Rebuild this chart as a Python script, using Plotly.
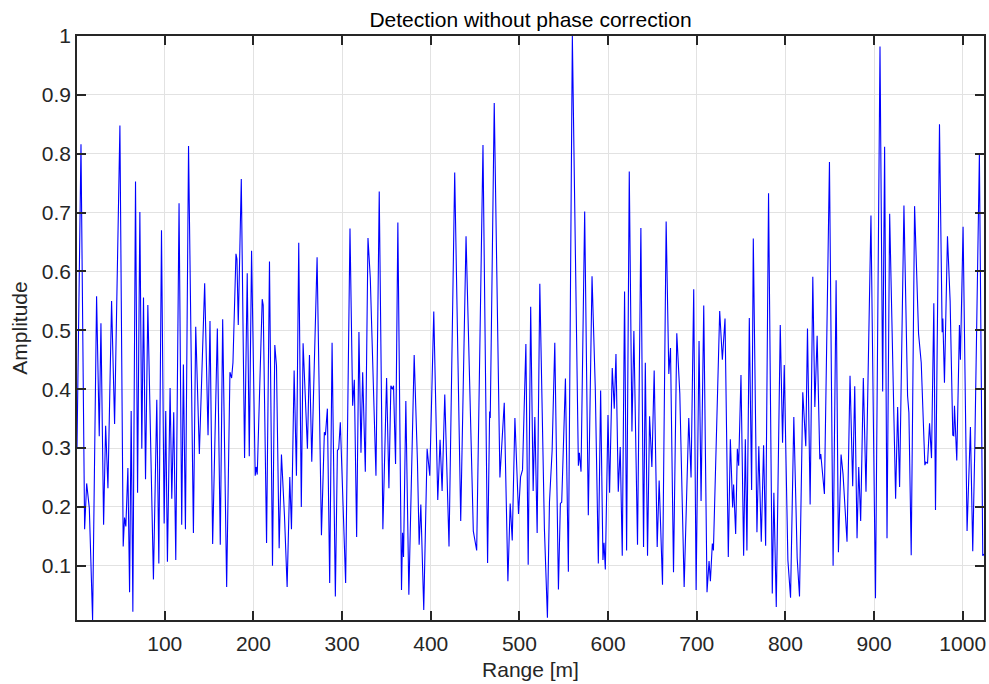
import plotly.graph_objects as go

# peaks and troughs
range_m = [
    1, 5.5, 9.6, 11.9, 14.9, 18.6, 23.1, 26.1, 28, 31, 33.3, 35.9, 40, 43.4, 49.4, 53.1, 54.6, 56.1,
    58.4, 60.3, 62.1, 64, 67, 69.3, 71.9, 74.1, 76, 78.3, 80.9, 87.2, 91, 93.3, 96.3, 99.3, 101.1,
    103, 106, 107.9, 110.1, 112.4, 116.1, 119.1, 121, 123.3, 126.8,
    132.3, 134.9, 139, 145, 148.8, 151, 154, 159.3, 162.6, 165.3, 169.8, 173.5, 175.4, 176.9,
    180.3, 181.4, 182.9, 186.3, 190, 193, 195.3, 197.9, 202, 203.1, 204.3, 209.9, 211, 214.8,
    218.1, 221.5, 224.1, 226, 229, 231.6, 235, 238, 241, 242.9, 245.9, 248.5, 251.1, 254, 256,
    260.9, 263.2, 265.8, 271.8, 276.7, 280, 281.2, 283.4, 286, 288.7, 292.4, 294.7, 296.2, 298,
    304, 308.9, 311.9, 313.8, 316.4, 319, 321.3, 323.2, 326.2, 329.2, 331.8, 338.2, 341.9, 346,
    350.2, 352.8, 355, 356.9, 358, 360.3, 362.9, 367, 368.2, 369.3, 371.9, 375.3, 381.3,
    385, 386.9, 388.8, 392.1, 395.9, 398.9, 403.4, 407.9, 410.5, 412.8, 415.8, 420.6, 427, 433.8,
    439.8, 448, 451.8, 458.9, 464.1, 466.4, 467.1, 471.6, 478, 482.9, 487, 489.6, 491.9, 494.9,
    499, 501.3, 503.5, 507.3, 509.9, 512.7,
    515.5, 517.4, 520, 523, 528.2, 531.6, 533.9, 536.9, 539.9, 544, 546.2, 547.7, 551.9, 555.2,
    559.7, 566.5, 567.6, 569.5, 573.6, 577.7, 581.9, 585.6, 589, 591.6, 594.2, 595.4, 596.9,
    599.9, 601.7, 604.7, 607, 608.9, 611.5, 613.7, 616, 618.6, 620.9, 623.9, 626.9, 629.1, 633.2,
    637, 640, 642,
    644.5, 646.8, 649.4, 652, 655.4, 657.6, 661.4, 665.5, 668.5, 670.4, 673.8, 677.5, 680.9,
    685.8, 691, 693.6, 696.6, 699.3, 702.6, 704.9, 707.9, 711.6, 713.9, 715.4, 717.6, 718.8,
    725.9, 728.9, 731.9, 735.6, 737.9, 740.5, 741.6, 743.9, 745.8, 747.3, 749.9, 752.9, 754.8,
    756.6, 759.3, 761.9, 763.8, 767.9, 770,
    772.8, 775.4, 777.7, 781, 785.2, 787, 789.7, 794.2, 796.8, 798.7, 802.8, 805.8, 809.5, 813.3,
    815.9, 819.6, 823, 824.9, 827.9, 830.9, 833.2, 835.8, 838.8, 839.9, 844, 849.7, 853.8, 857.2,
    859.8, 862.8, 865, 868, 869.5, 872.9, 875.9, 878.2, 880.8, 882.7, 884.9, 887.9, 890.9, 896.5,
    901.6,
    906.7, 909.7, 911.9, 914.6, 917.6, 921.3, 924.3, 926.6, 928.8, 933.7, 937.8, 939.3, 941.9,
    945.7, 950.2, 953.2, 957.3, 958.4, 960.3, 962.6, 964.8, 967.4, 969.3, 973.8, 976.8, 977.6,
    979.4, 982.8, 985.8, 988.8, 989.9, 990.7, 993.3, 996.3, 997.4, 1000.4, 1004.9, 1008.7,
    1011.3, 1013.6, 1018.8, 1022.6, 1024,
]
amplitude = [
    0.30, 0.816, 0.162, 0.24, 0.198, 0.008, 0.558, 0.32, 0.512, 0.17, 0.338, 0.232, 0.55, 0.341,
    0.848, 0.133, 0.182, 0.167, 0.266, 0.055, 0.363, 0.022, 0.753, 0.224, 0.701, 0.299, 0.556,
    0.247, 0.543, 0.077, 0.382, 0.104, 0.67, 0.172, 0.363, 0.107, 0.402, 0.214, 0.361, 0.11,
    0.716, 0.17, 0.442, 0.162, 0.813,
    0.156, 0.506, 0.29, 0.58, 0.322, 0.516, 0.137, 0.503, 0.136, 0.519, 0.064, 0.429, 0.419,
    0.445, 0.63, 0.621, 0.509, 0.757, 0.283, 0.597, 0.286, 0.635, 0.253, 0.268, 0.255, 0.553,
    0.543, 0.139, 0.617, 0.1, 0.475, 0.44, 0.13, 0.289, 0.185, 0.064, 0.251, 0.162, 0.432, 0.253,
    0.649, 0.2, 0.478,
    0.299, 0.458, 0.277, 0.624, 0.152, 0.327, 0.322, 0.367, 0.071, 0.479, 0.048, 0.296, 0.299,
    0.344, 0.071, 0.673, 0.372, 0.416, 0.149, 0.497, 0.292, 0.429, 0.26, 0.657, 0.589, 0.253,
    0.736, 0.162, 0.419, 0.232, 0.406, 0.4, 0.406, 0.273, 0.683, 0.059, 0.156, 0.115, 0.38,
    0.051, 0.458,
    0.276, 0.136, 0.204, 0.025, 0.299, 0.253, 0.532, 0.212, 0.314, 0.227, 0.391, 0.133, 0.768,
    0.176, 0.66, 0.159, 0.126, 0.815, 0.105, 0.362, 0.351, 0.886, 0.25, 0.377, 0.074, 0.206,
    0.143, 0.351, 0.188, 0.251, 0.263, 0.477, 0.102, 0.54,
    0.227, 0.353, 0.156, 0.579, 0.162, 0.012, 0.208, 0.296, 0.479, 0.06, 0.206, 0.208, 0.418,
    0.09, 1.0, 0.27, 0.292, 0.26, 0.702, 0.186, 0.592, 0.4, 0.104, 0.398, 0.11, 0.139, 0.094,
    0.356, 0.224, 0.436, 0.367, 0.46, 0.226, 0.302, 0.117, 0.566, 0.126, 0.77, 0.328, 0.499,
    0.136, 0.674, 0.132, 0.445,
    0.117, 0.354, 0.268, 0.432, 0.132, 0.245, 0.068, 0.685, 0.426, 0.47, 0.089, 0.495, 0.393,
    0.064, 0.351, 0.25, 0.57, 0.059, 0.482, 0.21, 0.542, 0.055, 0.108, 0.074, 0.138, 0.126,
    0.533, 0.45, 0.52, 0.115, 0.315, 0.199, 0.238, 0.154, 0.299, 0.27, 0.424, 0.117, 0.315,
    0.126, 0.521, 0.229, 0.656, 0.157, 0.303,
    0.141, 0.305, 0.134, 0.733, 0.053, 0.224, 0.03, 0.509, 0.309, 0.441, 0.11, 0.046, 0.353,
    0.113, 0.048, 0.395, 0.303, 0.503, 0.204, 0.591, 0.37, 0.491, 0.281, 0.29, 0.222, 0.786,
    0.1, 0.585, 0.123, 0.289, 0.256, 0.165, 0.141, 0.423, 0.235, 0.405, 0.147, 0.268, 0.176,
    0.419, 0.226, 0.695, 0.045,
    0.982, 0.396, 0.812, 0.147, 0.698, 0.393, 0.214, 0.37, 0.234, 0.712, 0.389, 0.36, 0.118,
    0.711, 0.494, 0.445, 0.271, 0.276, 0.274, 0.342, 0.283, 0.546, 0.195, 0.85, 0.497, 0.52,
    0.411, 0.66, 0.55, 0.322, 0.321, 0.372, 0.279, 0.509, 0.45, 0.676, 0.159, 0.336, 0.125,
    0.299, 0.8, 0.117, 0.12,
]

x_ticks = [100, 200, 300, 400, 500, 600, 700, 800, 900, 1000]
y_ticks = [0.1, 0.2, 0.3, 0.4, 0.5, 0.6, 0.7, 0.8, 0.9, 1]
y_tick_text = ["0.1", "0.2", "0.3", "0.4", "0.5", "0.6", "0.7", "0.8", "0.9", "1"]

font = "Liberation Sans, Arial, sans-serif"
ink = "#262626"
fsize = 21

fig = go.Figure()
fig.add_trace(go.Scatter(
    x=range_m,
    y=amplitude,
    mode="lines",
    line=dict(color="#0000ff", width=1.1),
    showlegend=False,
))

axis_style = dict(
    showline=True,
    linecolor=ink,
    linewidth=1.5,
    mirror="allticks",
    ticks="inside",
    ticklen=9,
    tickwidth=1.5,
    tickcolor=ink,
    showgrid=True,
    gridcolor="#e2e2e2",
    gridwidth=1,
    zeroline=False,
    tickfont=dict(family=font, size=fsize, color=ink),
)

fig.update_xaxes(
    axis_style,
    range=[1, 1024],
    tickvals=x_ticks,
    ticklabelstandoff=4,
    title=dict(text="Range [m]", font=dict(family=font, size=fsize, color=ink), standoff=8),
)
fig.update_yaxes(
    axis_style,
    range=[min(amplitude), max(amplitude)],
    tickvals=y_ticks,
    ticktext=y_tick_text,
    ticklabelstandoff=0,
    title=dict(text="Amplitude", font=dict(family=font, size=fsize, color=ink), standoff=8),
)

fig.update_layout(
    width=989,
    height=684,
    margin=dict(l=77, r=3, t=36, b=64),
    paper_bgcolor="white",
    plot_bgcolor="white",
    title=dict(
        text="Detection without phase correction",
        font=dict(family=font, size=fsize, color="#000000"),
        x=0.5,
        xref="paper",
        xanchor="center",
        y=1 - 20 / 684,
        yanchor="middle",
    ),
)

# drop the page's default body margin so the figure sits at the window's corner
fig.write_html(
    "out.html",
    config={"displayModeBar": False},
    post_script="document.body.style.margin='0';",
)
